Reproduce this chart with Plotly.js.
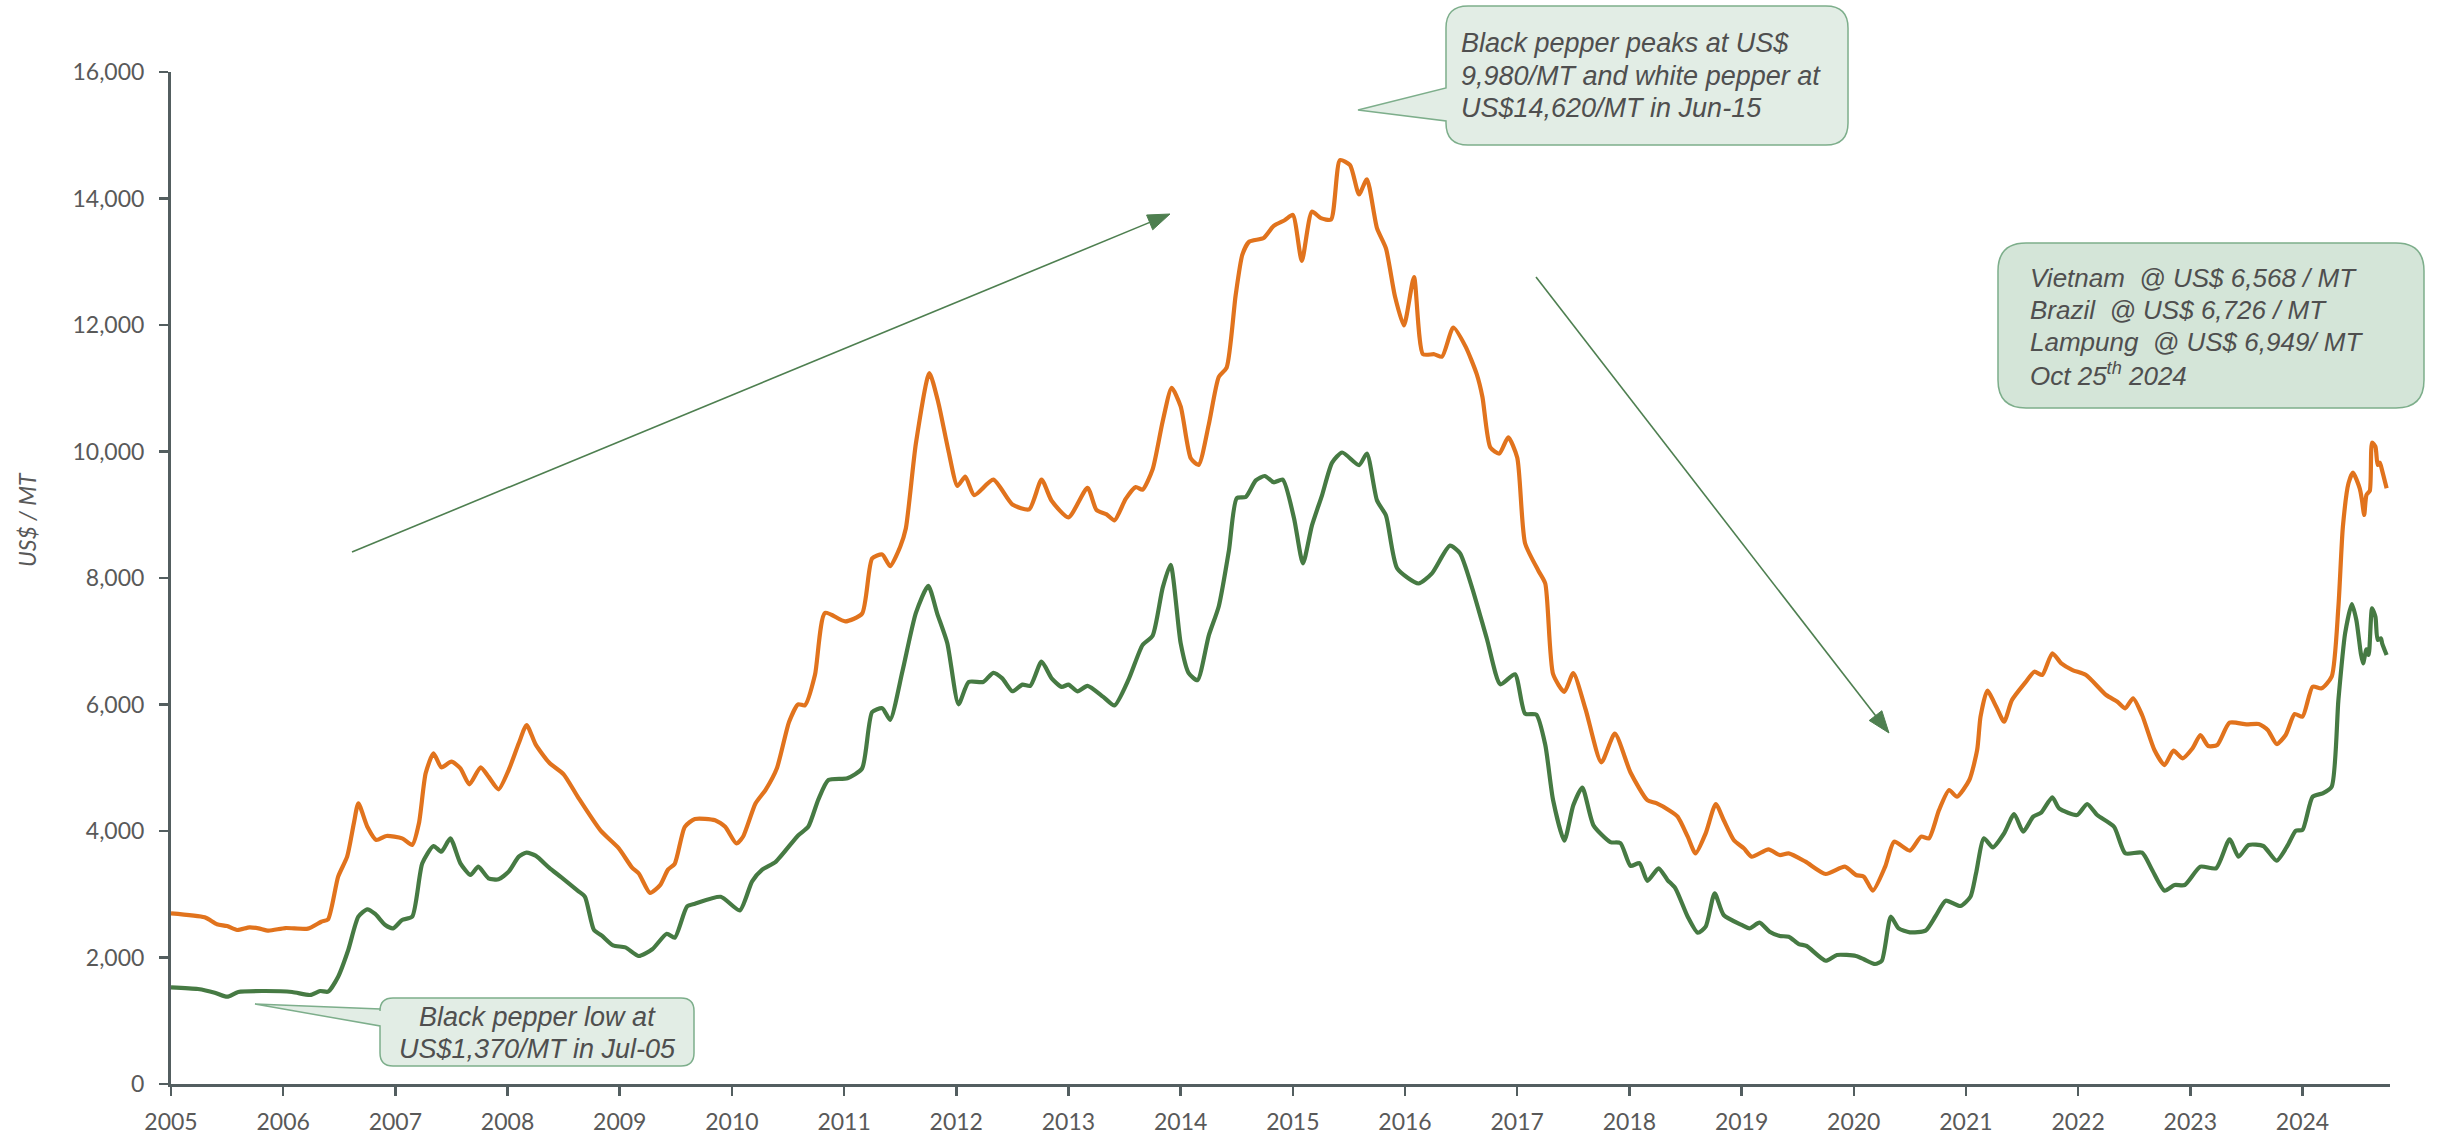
<!DOCTYPE html>
<html>
<head>
<meta charset="utf-8">
<script src="https://cdn.plot.ly/plotly-3.0.1.min.js"></script>
<style>
  html, body { margin: 0; padding: 0; background: #ffffff; }
  #chart { width: 2445px; height: 1134px; }
</style>
</head>
<body>
<div id="chart"></div>
<script>
// ---------------- DATA ----------------
const YEARS = [2005,2006,2007,2008,2009,2010,2011,2012,2013,2014,2015,2016,2017,2018,2019,2020,2021,2022,2023,2024];
const YEAR_LABELS = YEARS.map(String);

// White pepper (orange), time as decimal year, US$/MT
const WHITE_T = [2005.00,2005.30,2005.41,2005.50,2005.59,2005.70,2005.78,2005.87,2006.02,2006.22,2006.34,2006.40,2006.49,2006.57,2006.63,2006.67,2006.75,2006.83,2006.92,2007.06,2007.15,2007.21,2007.27,2007.34,2007.41,2007.50,2007.58,2007.66,2007.76,2007.83,2007.92,2008.01,2008.10,2008.17,2008.25,2008.37,2008.50,2008.63,2008.83,2008.99,2009.11,2009.17,2009.27,2009.36,2009.43,2009.49,2009.58,2009.67,2009.85,2009.94,2010.04,2010.10,2010.21,2010.30,2010.40,2010.51,2010.59,2010.65,2010.74,2010.83,2011.01,2011.16,2011.25,2011.34,2011.41,2011.50,2011.55,2011.64,2011.76,2011.84,2011.93,2012.01,2012.08,2012.16,2012.33,2012.50,2012.65,2012.76,2012.85,2013.00,2013.17,2013.25,2013.34,2013.41,2013.51,2013.60,2013.66,2013.75,2013.84,2013.92,2014.00,2014.09,2014.16,2014.25,2014.34,2014.41,2014.49,2014.55,2014.61,2014.74,2014.83,2014.93,2015.00,2015.08,2015.17,2015.25,2015.34,2015.42,2015.51,2015.59,2015.66,2015.75,2015.83,2015.91,2015.99,2016.08,2016.16,2016.26,2016.33,2016.43,2016.54,2016.64,2016.69,2016.76,2016.84,2016.92,2017.00,2017.07,2017.19,2017.25,2017.32,2017.42,2017.50,2017.61,2017.75,2017.87,2018.01,2018.16,2018.24,2018.36,2018.43,2018.52,2018.59,2018.68,2018.77,2018.84,2018.93,2019.02,2019.09,2019.24,2019.34,2019.42,2019.57,2019.75,2019.92,2020.02,2020.09,2020.17,2020.28,2020.36,2020.50,2020.60,2020.67,2020.76,2020.85,2020.92,2021.03,2021.10,2021.13,2021.19,2021.27,2021.34,2021.41,2021.53,2021.61,2021.68,2021.77,2021.85,2021.95,2022.07,2022.25,2022.35,2022.42,2022.49,2022.57,2022.68,2022.77,2022.85,2022.93,2023.02,2023.09,2023.16,2023.24,2023.35,2023.50,2023.61,2023.69,2023.77,2023.85,2023.93,2024.00,2024.09,2024.17,2024.26,2024.32,2024.36,2024.41,2024.45,2024.51,2024.53,2024.55,2024.57,2024.60,2024.62,2024.65,2024.67,2024.69,2024.71,2024.75];
const WHITE_V = [2699,2635,2525,2498,2435,2477,2461,2424,2466,2456,2566,2604,3278,3594,4122,4438,4068,3858,3921,3884,3779,4122,4912,5229,5007,5096,4991,4738,5007,4859,4659,4964,5386,5676,5370,5082,4896,4528,4005,3728,3421,3328,3021,3143,3390,3481,4066,4190,4171,4066,3802,3913,4435,4651,4988,5727,6003,5986,6465,7448,7314,7437,8310,8372,8187,8495,8783,10128,11240,10772,10011,9455,9602,9309,9554,9162,9086,9554,9221,8958,9426,9075,9005,8911,9251,9437,9396,9718,10479,11006,10713,9894,9788,10421,11181,11327,12468,13112,13316,13375,13568,13660,13740,13012,13793,13690,13667,14606,14527,14065,14304,13531,13211,12455,11992,12757,11538,11538,11499,11960,11658,11219,10862,10065,9968,10223,9905,8550,8112,7913,6479,6199,6495,5921,5085,5538,4925,4487,4440,4321,4227,3911,3647,3963,4427,4174,3858,3726,3594,3710,3620,3647,3515,3320,3436,3304,3278,3057,3436,3831,3689,3911,3884,4332,4648,4542,4806,5281,5807,6218,5965,5728,6071,6350,6519,6466,6809,6651,6545,6466,6150,6044,5940,6098,5834,5281,5043,5270,5149,5308,5518,5344,5360,5712,5686,5692,5597,5375,5518,5850,5807,6281,6256,6440,7546,8811,9497,9665,9418,9233,8996,9312,9380,10139,10076,9787,9823,9697,9418];

// Black pepper (green), time as decimal year, US$/MT
const BLACK_T = [2005.00,2005.24,2005.39,2005.50,2005.60,2005.81,2006.08,2006.24,2006.33,2006.40,2006.49,2006.58,2006.67,2006.75,2006.82,2006.91,2006.98,2007.06,2007.15,2007.24,2007.34,2007.41,2007.49,2007.58,2007.67,2007.74,2007.83,2007.92,2008.01,2008.10,2008.17,2008.25,2008.37,2008.48,2008.63,2008.69,2008.77,2008.84,2008.94,2009.05,2009.17,2009.29,2009.42,2009.49,2009.60,2009.67,2009.90,2010.07,2010.18,2010.27,2010.39,2010.59,2010.68,2010.77,2010.86,2011.03,2011.16,2011.25,2011.34,2011.41,2011.52,2011.64,2011.75,2011.83,2011.92,2012.02,2012.11,2012.24,2012.33,2012.41,2012.50,2012.59,2012.66,2012.76,2012.85,2012.94,2013.00,2013.08,2013.17,2013.31,2013.41,2013.54,2013.66,2013.75,2013.84,2013.91,2014.00,2014.07,2014.15,2014.25,2014.34,2014.43,2014.50,2014.58,2014.67,2014.75,2014.83,2014.91,2015.01,2015.09,2015.17,2015.26,2015.35,2015.44,2015.59,2015.66,2015.75,2015.83,2015.93,2016.12,2016.24,2016.40,2016.49,2016.60,2016.73,2016.85,2016.98,2017.07,2017.17,2017.25,2017.32,2017.42,2017.50,2017.58,2017.68,2017.83,2017.92,2018.01,2018.09,2018.16,2018.26,2018.34,2018.41,2018.52,2018.61,2018.68,2018.76,2018.84,2019.00,2019.07,2019.16,2019.25,2019.34,2019.42,2019.51,2019.58,2019.75,2019.85,2020.02,2020.09,2020.19,2020.25,2020.33,2020.40,2020.50,2020.64,2020.73,2020.82,2020.95,2021.04,2021.09,2021.16,2021.24,2021.34,2021.43,2021.51,2021.60,2021.67,2021.77,2021.83,2021.99,2022.08,2022.17,2022.32,2022.42,2022.57,2022.66,2022.77,2022.86,2022.95,2023.09,2023.23,2023.35,2023.43,2023.52,2023.65,2023.77,2023.87,2023.94,2024.00,2024.09,2024.18,2024.26,2024.32,2024.38,2024.44,2024.48,2024.52,2024.54,2024.57,2024.59,2024.62,2024.65,2024.67,2024.70,2024.71,2024.75];
const BLACK_V = [1529,1502,1444,1380,1455,1470,1455,1407,1470,1460,1697,2119,2645,2762,2688,2514,2461,2593,2645,3489,3763,3673,3884,3489,3304,3436,3252,3236,3357,3594,3657,3610,3421,3266,3051,2960,2436,2345,2191,2160,2024,2130,2375,2313,2806,2849,2960,2745,3205,3390,3513,3930,4066,4497,4805,4835,4988,5881,5941,5758,6526,7448,7875,7437,6969,6003,6356,6356,6501,6413,6209,6315,6296,6677,6413,6278,6315,6209,6296,6120,5986,6413,6939,7086,7847,8209,6969,6501,6384,7086,7554,8432,9262,9281,9543,9613,9513,9554,8949,8231,8828,9308,9825,9984,9785,9968,9227,8988,8152,7913,8073,8511,8391,7833,7036,6319,6479,5856,5840,5363,4487,3848,4406,4686,4089,3825,3809,3450,3491,3211,3410,3225,3094,2645,2392,2487,3015,2672,2514,2461,2550,2408,2340,2329,2213,2182,1949,2040,2024,1972,1897,1949,2645,2461,2398,2424,2656,2898,2814,2961,3331,3884,3742,3963,4269,3989,4227,4290,4532,4358,4253,4427,4253,4068,3647,3657,3383,3057,3146,3146,3436,3410,3869,3594,3779,3763,3531,3779,4005,4016,4542,4596,4701,6071,7126,7589,7336,6809,6651,6873,6783,7521,7388,7020,7047,6968,6783];

// Callout texts, one entry per line
const NOTE_PEAK = ["Black pepper peaks at US$", "9,980/MT and white pepper at", "US$14,620/MT in Jun-15"];
const NOTE_LOW = ["Black pepper low at", "US$1,370/MT in Jul-05"];
const NOTE_LATEST = ["Vietnam&nbsp;&nbsp;@ US$ 6,568 / MT", "Brazil&nbsp;&nbsp;@ US$ 6,726 / MT", "Lampung&nbsp;&nbsp;@ US$ 6,949/ MT", "Oct 25<sup>th</sup> 2024"];
const Y_TITLE = "US$ / MT";

// ---------------- LAYOUT GEOMETRY ----------------
const W = 2445, H = 1134;
const PL = 171, PR = 2390, PT = 72, PB = 1084;   // plot area in pixels
const PW = PR - PL, PH = PB - PT;
const X_RANGE = [2005, 2024.78];
const Y_RANGE = [0, 16000];

const px2paperX = p => (p - PL) / PW;
const px2paperY = p => (PB - p) / PH;
const P = (x, y) => px2paperX(x).toFixed(5) + ',' + px2paperY(y).toFixed(5);

function calloutPath(x0, y0, x1, y1, r, ptr) {
  let d = 'M' + P(x0 + r, y0) + ' L' + P(x1 - r, y0) + ' Q' + P(x1, y0) + ' ' + P(x1, y0 + r) +
          ' L' + P(x1, y1 - r) + ' Q' + P(x1, y1) + ' ' + P(x1 - r, y1) +
          ' L' + P(x0 + r, y1) + ' Q' + P(x0, y1) + ' ' + P(x0, y1 - r);
  if (ptr) {
    d += ' L' + P(x0, ptr.yb) + ' L' + P(ptr.tx, ptr.ty) + ' L' + P(x0, ptr.ya);
  }
  d += ' L' + P(x0, y0 + r) + ' Q' + P(x0, y0) + ' ' + P(x0 + r, y0) + ' Z';
  return d;
}

function arrowShapes(sx, sy, tx, ty, color) {
  const dx = tx - sx, dy = ty - sy, len = Math.hypot(dx, dy);
  const ux = dx / len, uy = dy / len, nx = -uy, ny = ux;
  const L = 22, w = 8;
  const bx = tx - L * ux, by = ty - L * uy;
  return [
    { type: 'line', xref: 'paper', yref: 'paper',
      x0: px2paperX(sx), y0: px2paperY(sy), x1: px2paperX(bx + 4 * ux), y1: px2paperY(by + 4 * uy),
      line: { color: color, width: 1.6 } },
    { type: 'path', xref: 'paper', yref: 'paper',
      path: 'M' + P(tx, ty) + ' L' + P(bx + w * nx, by + w * ny) + ' L' + P(bx - w * nx, by - w * ny) + ' Z',
      fillcolor: color, line: { color: color, width: 1 } }
  ];
}

const ORANGE = '#E1731D';
const GREEN = '#467A43';
const AXIS = '#535E60';
const TICKTXT = '#595959';
const NOTETXT = '#4F4F4F';
const ARROW = '#4E7F50';
const BORDER = '#7DAE8B';

const traces = [
  { type: 'scatter', mode: 'lines', name: 'White pepper', x: WHITE_T, y: WHITE_V,
    line: { color: ORANGE, width: 4.2, shape: 'spline', smoothing: 0.6 }, hoverinfo: 'skip' },
  { type: 'scatter', mode: 'lines', name: 'Black pepper', x: BLACK_T, y: BLACK_V,
    line: { color: GREEN, width: 4.2, shape: 'spline', smoothing: 0.6 }, hoverinfo: 'skip' }
];

const shapes = [
  { type: 'path', xref: 'paper', yref: 'paper', layer: 'above',
    path: calloutPath(1446, 6, 1848, 145, 22, { ya: 88, yb: 121, tx: 1358, ty: 110 }),
    fillcolor: '#E2EDE5', line: { color: BORDER, width: 1.5 } },
  { type: 'path', xref: 'paper', yref: 'paper', layer: 'above',
    path: calloutPath(380, 998, 694, 1066, 13, { ya: 1009, yb: 1026, tx: 255, ty: 1004 }),
    fillcolor: '#E2EDE5', line: { color: BORDER, width: 1.5 } },
  { type: 'path', xref: 'paper', yref: 'paper', layer: 'above',
    path: calloutPath(1998, 243, 2424, 408, 28, null),
    fillcolor: '#D4E5D8', line: { color: BORDER, width: 1.5 } }
].concat(arrowShapes(352, 552, 1170, 214, ARROW))
 .concat(arrowShapes(1536, 277, 1889, 733, ARROW));

const noteFont = size => ({ family: 'Liberation Sans, Arial, sans-serif', size: size, color: NOTETXT });

function noteLines(lines, xpx, ypxs, anchor, size) {
  return lines.map((t, i) => ({
    xref: 'paper', yref: 'paper', x: px2paperX(xpx), y: px2paperY(ypxs[i]),
    xanchor: anchor, yanchor: 'middle', align: anchor, showarrow: false,
    text: '<i>' + t + '</i>', font: noteFont(size)
  }));
}

const annotations = []
  .concat(noteLines(NOTE_PEAK, 1459, [43, 76, 108], 'left', 27))
  .concat(noteLines(NOTE_LOW, 537, [1017, 1049], 'center', 27))
  .concat(noteLines(NOTE_LATEST, 2028, [278, 310, 342, 374], 'left', 26))
  .concat([{ xref: 'paper', yref: 'paper', x: px2paperX(27), y: px2paperY(520), xanchor: 'center', yanchor: 'middle',
    textangle: -90, showarrow: false, text: '<i>' + Y_TITLE + '</i>',
    font: { family: 'Lato, sans-serif', size: 23, color: TICKTXT } }]);

const axisCommon = {
  showline: true, linecolor: AXIS, linewidth: 3, mirror: false,
  ticks: 'outside', ticklen: 9, tickwidth: 2.5, tickcolor: AXIS,
  showgrid: false, zeroline: false,
  tickfont: { family: 'Lato, sans-serif', size: 23, color: TICKTXT },
  fixedrange: true
};

const layout = {
  width: W, height: H,
  margin: { l: PL, r: W - PR, t: PT, b: H - PB, pad: 0 },
  paper_bgcolor: '#ffffff', plot_bgcolor: '#ffffff',
  showlegend: false, hovermode: false,
  xaxis: Object.assign({}, axisCommon, {
    type: 'linear', range: X_RANGE, tickmode: 'array', tickvals: YEARS, ticktext: YEAR_LABELS,
    ticklabelstandoff: 6
  }),
  yaxis: Object.assign({}, axisCommon, {
    range: Y_RANGE, tickmode: 'linear', tick0: 0, dtick: 2000, tickformat: ',d',
    ticklabelstandoff: 10
  }),
  shapes: shapes,
  annotations: annotations
};

Plotly.newPlot('chart', traces, layout, { staticPlot: true, displayModeBar: false });
</script>
</body>
</html>
